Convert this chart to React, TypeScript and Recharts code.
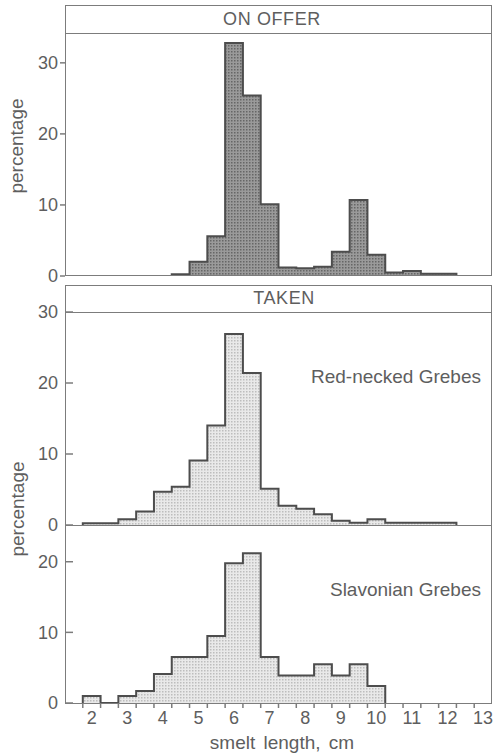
import React from "react";
import { AreaChart, Area, XAxis, YAxis } from "recharts";

// bin centres (cm), each bin 0.5 cm wide
const lengths = [2, 2.5, 3, 3.5, 4, 4.5, 5, 5.5, 6, 6.5, 7, 7.5, 8, 8.5, 9, 9.5, 10, 10.5, 11, 11.5, 12];
const BIN = 0.5;

const onOffer = [0, 0, 0, 0, 0, 0.25, 2.0, 5.6, 32.8, 25.4, 10.1, 1.2, 1.1, 1.3, 3.4, 10.7, 3.0, 0.5, 0.7, 0.3, 0.3];
const redNecked = [0.25, 0.25, 0.8, 1.9, 4.7, 5.4, 9.1, 14.0, 26.9, 21.4, 5.1, 2.7, 2.3, 1.5, 0.6, 0.3, 0.8, 0.3, 0.3, 0.3, 0.3];
const slavonian = [1.0, 0, 1.0, 1.7, 4.1, 6.5, 6.5, 9.5, 19.8, 21.2, 6.5, 3.9, 3.9, 5.5, 3.9, 5.5, 2.4, 0, 0, 0, 0];

const xLabels = [2, 3, 4, 5, 6, 7, 8, 9, 10, 11, 12, 13];
const xEdges = [1.75, 2.25, 2.75, 3.25, 3.75, 4.25, 4.75, 5.25, 5.75, 6.25, 6.75, 7.25, 7.75, 8.25, 8.75, 9.25, 9.75, 10.25, 10.75, 11.25, 11.75, 12.25, 12.75];
const X_DOMAIN: [number, number] = [1.25, 13.25];

const ticksOffer = [0, 10, 20, 30];
const ticksRed = [0, 10, 20, 30];
const ticksSlav = [0, 10, 20];

const LINE = "#7c7c7c";
const OUTLINE = "#4d4d4d";
const TEXT = "#5e5e5e";
const FONT = "'Liberation Sans', Arial, sans-serif";

function steps(values: number[]) {
  const nz = values.map((v, i) => (v > 0 ? i : -1)).filter((i) => i >= 0);
  const first = nz[0];
  const last = nz[nz.length - 1];
  const pts: { x: number; y: number }[] = [{ x: lengths[first] - BIN / 2, y: 0 }];
  for (let i = first; i <= last; i++) {
    pts.push({ x: lengths[i] - BIN / 2, y: values[i] });
    pts.push({ x: lengths[i] + BIN / 2, y: values[i] });
  }
  pts.push({ x: lengths[last] + BIN / 2, y: 0 });
  return pts;
}

const YTick = (props: any) => {
  const { x, y, payload, inward } = props;
  return (
    <g>
      {inward ? (
        <line x1={x + 7} x2={x + 15} y1={y} y2={y} stroke={LINE} strokeWidth={1.5} />
      ) : (
        <line x1={x + 2} x2={x + 7} y1={y} y2={y} stroke={LINE} strokeWidth={1.5} />
      )}
      <text x={x} y={y} dy="0.36em" textAnchor="end" fill={TEXT} fontSize={18} fontFamily={FONT}>
        {payload.value}
      </text>
    </g>
  );
};

const XTick = (props: any) => {
  const { x, y, payload } = props;
  const v = payload.value;
  if (Number.isInteger(v)) {
    return (
      <text x={x} y={y + 21} textAnchor="middle" fill={TEXT} fontSize={18} fontFamily={FONT}>
        {v}
      </text>
    );
  }
  return <line x1={x} x2={x} y1={y} y2={y + 5} stroke={LINE} strokeWidth={1.5} />;
};

const Patterns = () => (
  <defs>
    <pattern id="darkStipple" width="3" height="3" patternUnits="userSpaceOnUse">
      <rect width="3" height="3" fill="#9a9a9a" />
      <rect x="0" y="0" width="1.5" height="1.5" fill="#666666" />
    </pattern>
    <pattern id="lightStipple" width="3" height="3" patternUnits="userSpaceOnUse">
      <rect width="3" height="3" fill="#e9e9e9" />
      <rect x="0" y="0" width="1.5" height="1.5" fill="#bdbdbd" />
    </pattern>
  </defs>
);

const abs = (s: React.CSSProperties): React.CSSProperties => ({ position: "absolute", ...s });

export default function App() {
  const offerData = steps(onOffer);
  const redData = steps(redNecked);
  const slavData = steps(slavonian);

  return (
    <div style={abs({ left: 0, top: 0, width: 502, height: 756, background: "#fff", fontFamily: FONT, overflow: "hidden" })}>
      {/* Panel 1: ON OFFER */}
      <div style={abs({ left: 0, top: 0 })}>
        <AreaChart width={502} height={292} data={offerData} margin={{ top: 33, right: 10, bottom: 16, left: 5 }}>
          <Patterns />
          <XAxis type="number" dataKey="x" domain={X_DOMAIN} hide allowDataOverflow />
          <YAxis
            type="number"
            domain={[0, 34.2]}
            ticks={ticksOffer}
            width={60}
            axisLine={false}
            tickLine={false}
            tickSize={0}
            tickMargin={7}
            tick={<YTick inward={false} />}
            interval={0}
          />
          <Area
            type="linear"
            dataKey="y"
            stroke={OUTLINE}
            strokeWidth={2}
            fill="url(#darkStipple)"
            fillOpacity={1}
            dot={false}
            activeDot={false}
            isAnimationActive={false}
          />
        </AreaChart>
      </div>

      {/* Panel 2: TAKEN, Red-necked */}
      <div style={abs({ left: 0, top: 280 })}>
        <AreaChart width={502} height={262} data={redData} margin={{ top: 32, right: 10, bottom: 17, left: 5 }}>
          <Patterns />
          <XAxis type="number" dataKey="x" domain={X_DOMAIN} hide allowDataOverflow />
          <YAxis
            type="number"
            domain={[0, 30]}
            ticks={ticksRed}
            width={60}
            axisLine={false}
            tickLine={false}
            tickSize={0}
            tickMargin={7}
            tick={<YTick inward={true} />}
            interval={0}
          />
          <Area
            type="linear"
            dataKey="y"
            stroke={OUTLINE}
            strokeWidth={2}
            fill="url(#lightStipple)"
            fillOpacity={1}
            dot={false}
            activeDot={false}
            isAnimationActive={false}
          />
        </AreaChart>
      </div>

      {/* Panel 3: Slavonian */}
      <div style={abs({ left: 0, top: 520 })}>
        <AreaChart width={502} height={236} data={slavData} margin={{ top: 5, right: 10, bottom: 23, left: 5 }}>
          <Patterns />
          <XAxis
            type="number"
            dataKey="x"
            domain={X_DOMAIN}
            allowDataOverflow
            ticks={[...xEdges, ...xLabels].sort((a, b) => a - b)}
            interval={0}
            axisLine={false}
            tickLine={false}
            tickSize={0}
            tickMargin={0}
            height={30}
            tick={<XTick />}
          />
          <YAxis
            type="number"
            domain={[0, 25.2]}
            ticks={ticksSlav}
            width={60}
            axisLine={false}
            tickLine={false}
            tickSize={0}
            tickMargin={7}
            tick={<YTick inward={true} />}
            interval={0}
          />
          <Area
            type="linear"
            dataKey="y"
            stroke={OUTLINE}
            strokeWidth={2}
            fill="url(#lightStipple)"
            fillOpacity={1}
            dot={false}
            activeDot={false}
            isAnimationActive={false}
          />
        </AreaChart>
      </div>

      {/* Frames */}
      <div style={abs({ left: 65, top: 5, width: 427, height: 271, border: `1.5px solid ${LINE}`, boxSizing: "border-box", pointerEvents: "none" })} />
      <div style={abs({ left: 65, top: 33, width: 427, height: 0, borderTop: `1.5px solid ${LINE}` })} />
      <div style={abs({ left: 65, top: 285, width: 427, height: 419, border: `1.5px solid ${LINE}`, boxSizing: "border-box", pointerEvents: "none" })} />
      <div style={abs({ left: 65, top: 311.5, width: 427, height: 0, borderTop: `1.5px solid ${LINE}` })} />
      <div style={abs({ left: 65, top: 524.5, width: 427, height: 0, borderTop: `1.5px solid ${LINE}` })} />

      {/* Titles */}
      <div style={abs({ left: 272, top: 19, transform: "translate(-50%, -50%)", fontSize: 18, color: TEXT, letterSpacing: 0.6, whiteSpace: "nowrap" })}>ON OFFER</div>
      <div style={abs({ left: 284, top: 298, transform: "translate(-50%, -50%)", fontSize: 18, color: TEXT, letterSpacing: 0.6, whiteSpace: "nowrap" })}>TAKEN</div>

      <div style={abs({ right: 21, top: 366, fontSize: 19, color: TEXT, whiteSpace: "nowrap", lineHeight: "22px" })}>Red-necked Grebes</div>
      <div style={abs({ right: 21, top: 579, fontSize: 19, color: TEXT, whiteSpace: "nowrap", lineHeight: "22px" })}>Slavonian Grebes</div>

      {/* Axis titles */}
      <div style={abs({ left: 17, top: 146, transform: "translate(-50%, -50%) rotate(-90deg)", fontSize: 19, color: TEXT, whiteSpace: "nowrap" })}>percentage</div>
      <div style={abs({ left: 18, top: 509, transform: "translate(-50%, -50%) rotate(-90deg)", fontSize: 19, color: TEXT, whiteSpace: "nowrap" })}>percentage</div>
      <div style={abs({ left: 282, top: 743, transform: "translate(-50%, -50%)", fontSize: 19, color: TEXT, whiteSpace: "nowrap", wordSpacing: 3 })}>smelt length, cm</div>
    </div>
  );
}
